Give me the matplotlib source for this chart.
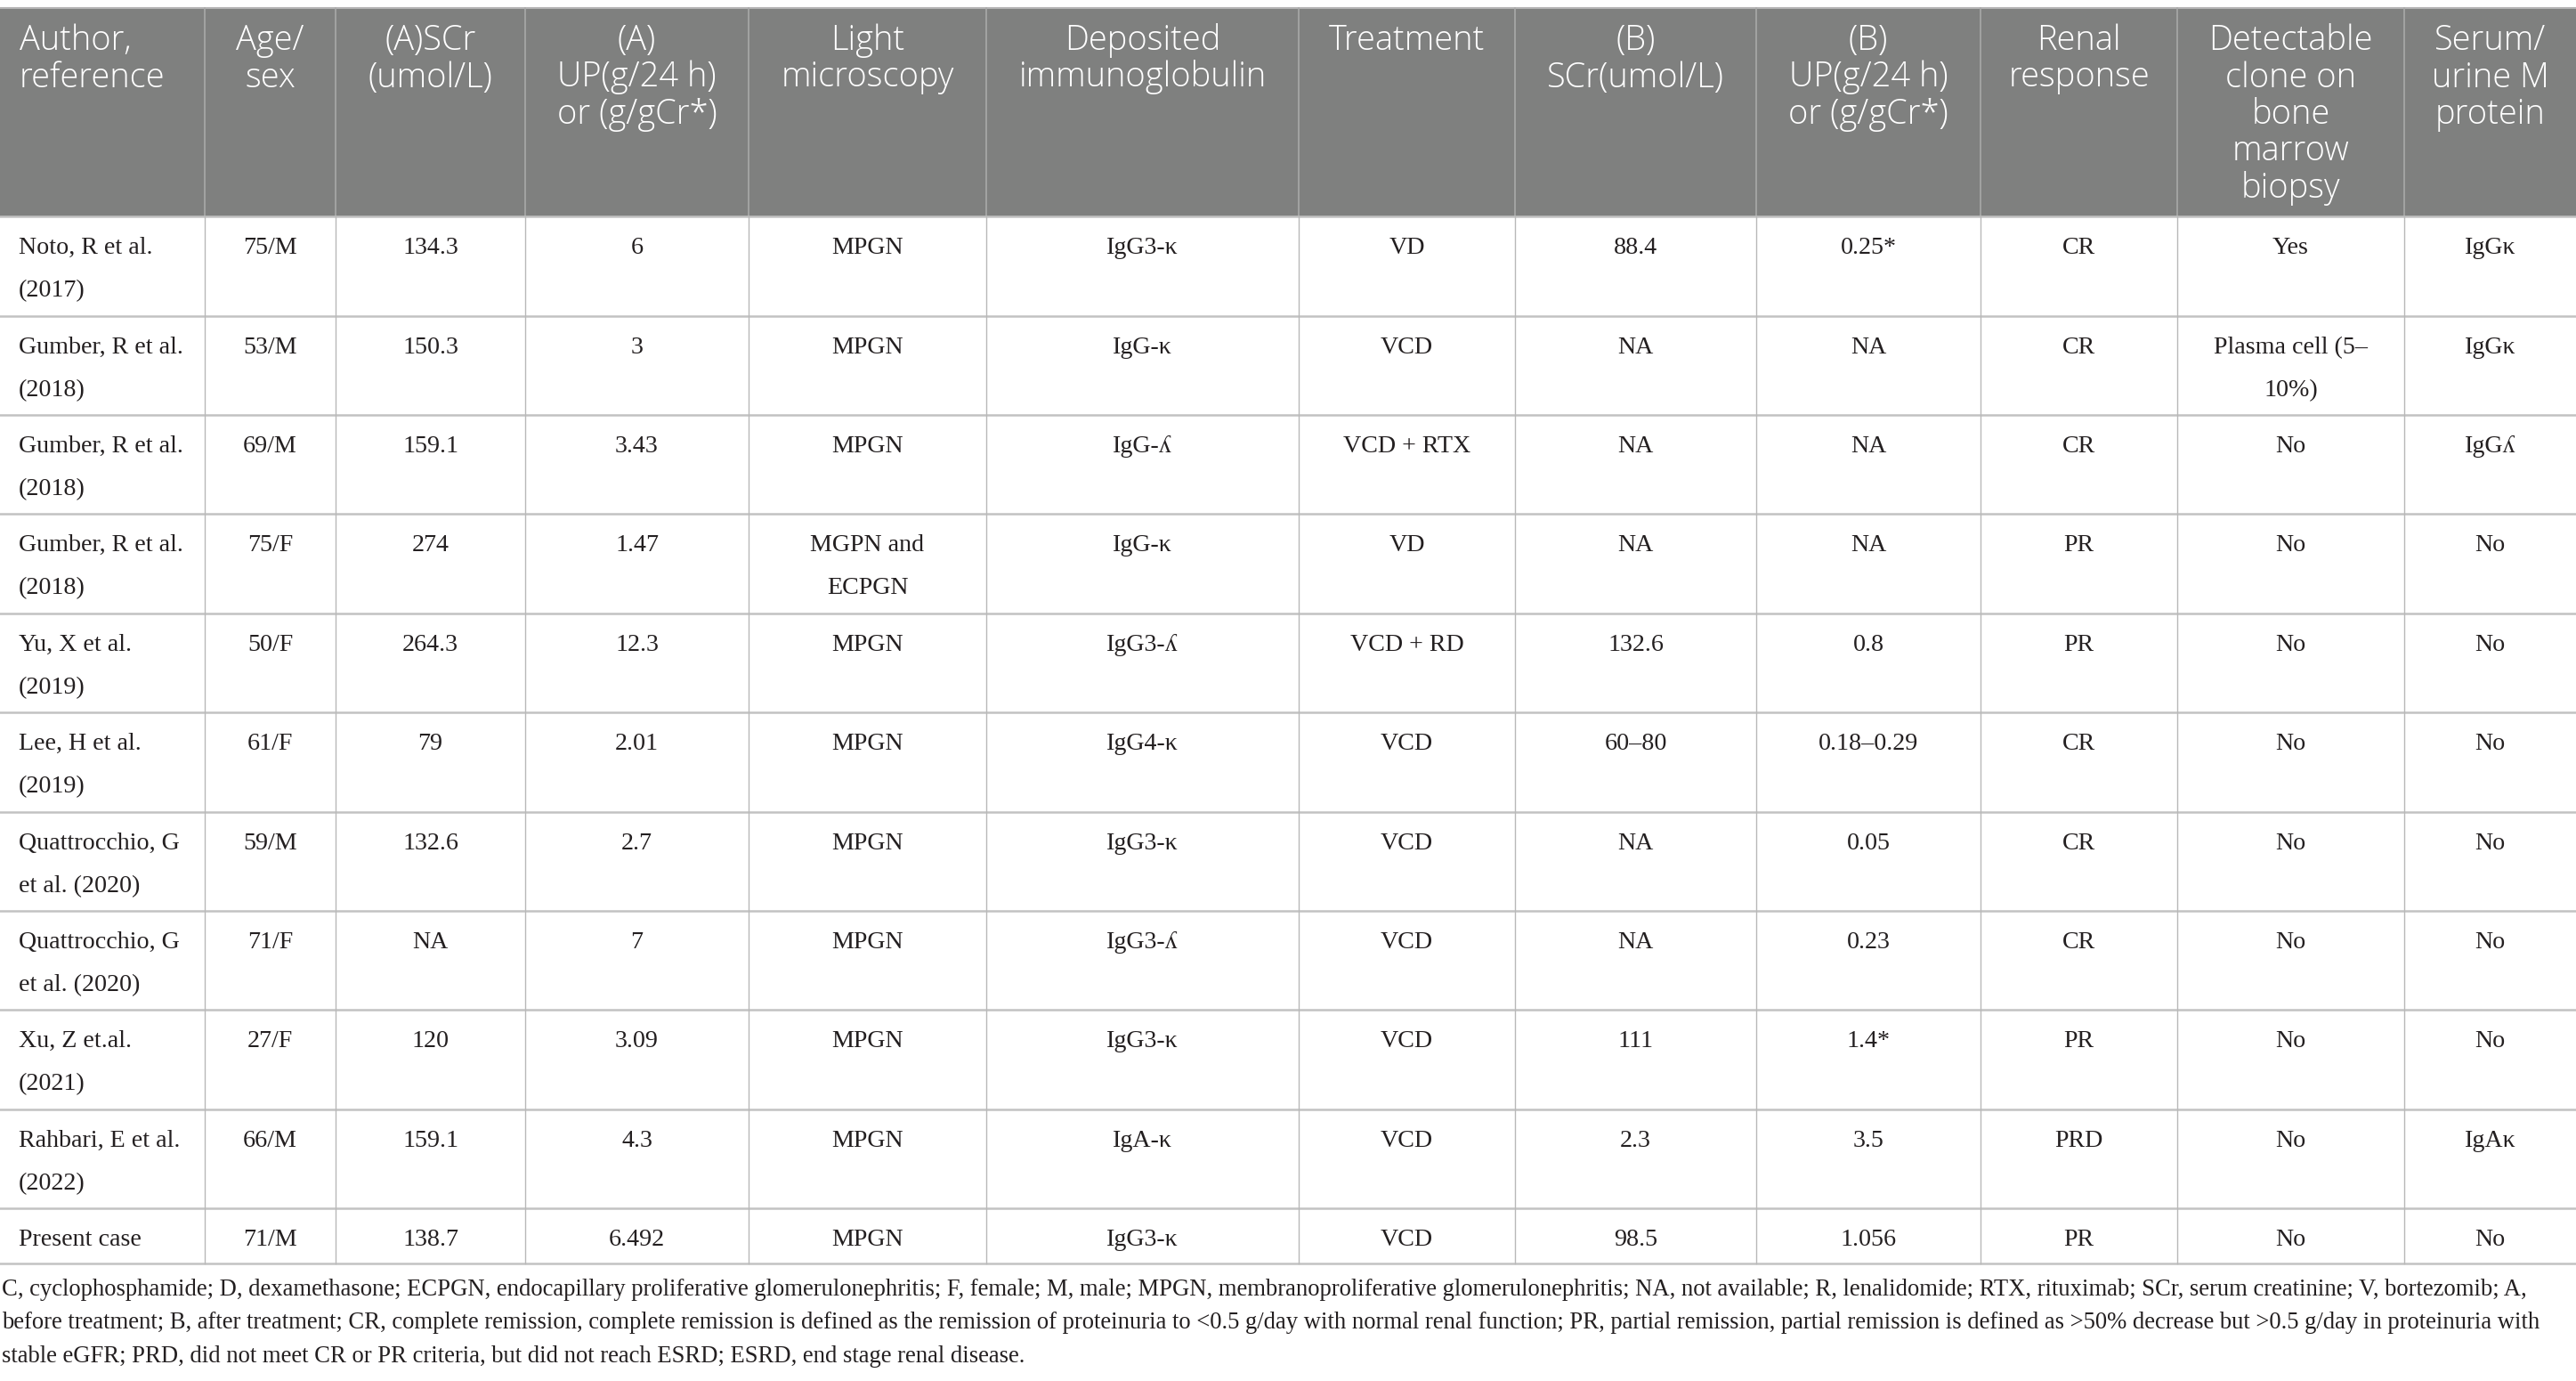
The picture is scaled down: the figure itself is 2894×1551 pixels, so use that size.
import matplotlib
matplotlib.use("Agg")
import matplotlib.pyplot as plt
from matplotlib.patches import Rectangle

# table content
headers = [
    "Author,\nreference", "Age/\nsex", "(A)SCr\n(umol/L)", "(A)\nUP(g/24 h)\nor (g/gCr*)",
    "Light\nmicroscopy", "Deposited\nimmunoglobulin", "Treatment", "(B)\nSCr(umol/L)",
    "(B)\nUP(g/24 h)\nor (g/gCr*)", "Renal\nresponse", "Detectable\nclone on\nbone\nmarrow\nbiopsy",
    "Serum/\nurine M\nprotein",
]
authors = [
    "Noto, R et al.\n(2017)", "Gumber, R et al.\n(2018)", "Gumber, R et al.\n(2018)",
    "Gumber, R et al.\n(2018)", "Yu, X et al.\n(2019)", "Lee, H et al.\n(2019)",
    "Quattrocchio, G\net al. (2020)", "Quattrocchio, G\net al. (2020)", "Xu, Z et.al.\n(2021)",
    "Rahbari, E et al.\n(2022)", "Present case",
]
age_sex = ["75/M", "53/M", "69/M", "75/F", "50/F", "61/F", "59/M", "71/F", "27/F", "66/M", "71/M"]
scr_before = ["134.3", "150.3", "159.1", "274", "264.3", "79", "132.6", "NA", "120", "159.1", "138.7"]
up_before = ["6", "3", "3.43", "1.47", "12.3", "2.01", "2.7", "7", "3.09", "4.3", "6.492"]
light_micro = ["MPGN", "MPGN", "MPGN", "MGPN and\nECPGN", "MPGN", "MPGN", "MPGN", "MPGN",
               "MPGN", "MPGN", "MPGN"]
deposited = ["IgG3-κ", "IgG-κ", "IgG-ʎ", "IgG-κ", "IgG3-ʎ", "IgG4-κ", "IgG3-κ", "IgG3-ʎ",
             "IgG3-κ", "IgA-κ", "IgG3-κ"]
treatment = ["VD", "VCD", "VCD + RTX", "VD", "VCD + RD", "VCD", "VCD", "VCD", "VCD", "VCD", "VCD"]
scr_after = ["88.4", "NA", "NA", "NA", "132.6", "60–80", "NA", "NA", "111", "2.3", "98.5"]
up_after = ["0.25*", "NA", "NA", "NA", "0.8", "0.18–0.29", "0.05", "0.23", "1.4*", "3.5", "1.056"]
renal_resp = ["CR", "CR", "CR", "PR", "PR", "CR", "CR", "CR", "PR", "PRD", "PR"]
clone_bm = ["Yes", "Plasma cell (5–\n10%)", "No", "No", "No", "No", "No", "No", "No", "No", "No"]
m_protein = ["IgGκ", "IgGκ", "IgGʎ", "No", "No", "No", "No", "No", "No", "IgAκ", "No"]

footnote = [
    "C, cyclophosphamide; D, dexamethasone; ECPGN, endocapillary proliferative glomerulonephritis; "
    "F, female; M, male; MPGN, membranoproliferative glomerulonephritis; NA, not available; R, lenalidomide; "
    "RTX, rituximab; SCr, serum creatinine; V, bortezomib; A,",
    "before treatment; B, after treatment; CR, complete remission, complete remission is defined as the "
    "remission of proteinuria to <0.5 g/day with normal renal function; PR, partial remission, partial "
    "remission is defined as >50% decrease but >0.5 g/day in proteinuria with",
    "stable eGFR; PRD, did not meet CR or PR criteria, but did not reach ESRD; ESRD, end stage renal disease.",
]

columns = [authors, age_sex, scr_before, up_before, light_micro, deposited, treatment,
           scr_after, up_after, renal_resp, clone_bm, m_protein]

# layout (pixel coordinates)
W, H = 2894, 1551
col_x = [0, 230, 377, 590, 841, 1108, 1459, 1702, 1973, 2225, 2446, 2701, 2894]
row_y = [243, 355, 466, 577, 689, 800, 912, 1023, 1134, 1246, 1357, 1419]
HEAD_TOP = 9
PX = 0.72  # points per pixel at dpi 100

SERIF = ["Liberation Serif", "DejaVu Serif"]
SANS = ["Open Sans", "DejaVu Sans"]

fig = plt.figure(figsize=(W / 100, H / 100), dpi=100)
ax = fig.add_axes([0, 0, 1, 1])
ax.set_xlim(0, W)
ax.set_ylim(H, 0)
ax.axis("off")

# header band
ax.add_patch(Rectangle((0, HEAD_TOP), W, row_y[0] - HEAD_TOP, color="#7f807f", lw=0))
ax.plot([0, W], [HEAD_TOP, HEAD_TOP], color="#b5b5b5", lw=1.5)
for x in col_x[1:-1]:
    ax.plot([x, x], [HEAD_TOP, row_y[0]], color="#a9a9a9", lw=1.2)

for i, h in enumerate(headers):
    left = i == 0
    xc = col_x[i] + 22 if left else (col_x[i] + col_x[i + 1]) / 2
    for k, line in enumerate(h.split("\n")):
        ax.text(xc, 56 + k * 41.5, line, ha="left" if left else "center", va="baseline",
                color="white", fontsize=38 * PX, family=SANS, fontweight="light")

# body grid
for y in row_y:
    ax.plot([0, W], [y, y], color="#c2c2c2", lw=1.8)
for x in col_x[1:-1]:
    ax.plot([x, x], [row_y[0], row_y[-1]], color="#b8b8b8", lw=1.0)

for r in range(len(authors)):
    top = row_y[r]
    for c, col in enumerate(columns):
        left = c == 0
        xc = col_x[c] + 21 if left else (col_x[c] + col_x[c + 1]) / 2
        for k, line in enumerate(col[r].split("\n")):
            ax.text(xc, top + 42 + k * 48, line, ha="left" if left else "center",
                    va="baseline", color="#231f20", fontsize=28 * PX, family=SERIF)

for k, line in enumerate(footnote):
    ax.text(2, 1455 + k * 37.5, line, ha="left", va="baseline", color="#231f20",
            fontsize=26.6 * PX, family=SERIF)

fig.savefig("out.png", dpi=100, facecolor="white")
